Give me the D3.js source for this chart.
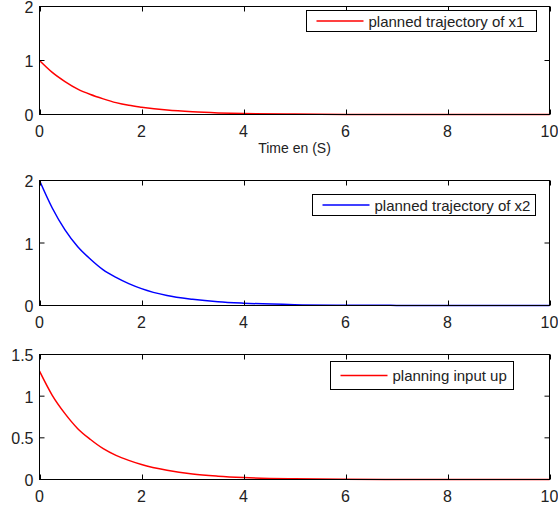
<!DOCTYPE html>
<html>
<head>
<meta charset="utf-8">
<script src="https://cdnjs.cloudflare.com/ajax/libs/d3/7.8.5/d3.min.js"></script>
<style>
  body { margin: 0; background: #fff; }
  svg text { font-family: "Liberation Sans", Arial, sans-serif; fill: #222; }
</style>
</head>
<body>
<svg id="chart" width="558" height="510"></svg>
<script>
// time samples
let timeVals = [0, 0.25, 0.5, 0.75, 1, 1.25, 1.5, 1.75, 2, 2.5, 3, 3.5, 4, 5, 6, 7, 8, 9, 10];

// planned trajectory of x1
let x1Vals = [1, 0.78, 0.61, 0.47, 0.37, 0.29, 0.22, 0.17, 0.135, 0.082, 0.05, 0.03, 0.018, 0.007, 0.002, 0.001, 0, 0, 0];
// planned trajectory of x2
let x2Vals = [2, 1.56, 1.21, 0.94, 0.74, 0.57, 0.45, 0.35, 0.27, 0.16, 0.10, 0.06, 0.037, 0.013, 0.005, 0.002, 0.001, 0, 0];
// planning input up
let upVals = [1.3, 1.01, 0.79, 0.61, 0.48, 0.37, 0.29, 0.23, 0.18, 0.11, 0.065, 0.04, 0.024, 0.009, 0.003, 0.001, 0, 0, 0];

let xTicks = [0, 2, 4, 6, 8, 10];
let legendNames = ['planned trajectory of x1', 'planned trajectory of x2', 'planning input up'];
let seriesColors = ['#ff0000', '#0000ff', '#ff0000'];
let yDomains = [[0, 2], [0, 2], [0, 1.5]];
let yTickSets = [[0, 1, 2], [0, 1, 2], [0, 0.5, 1, 1.5]];
let xLabel = 'Time en (S)';

let svg = d3.select('#chart');

let left = 39.5, right = 549.5;
// top / bottom of each axes box
let panels = [
  {top: 6.5, bottom: 114.5, vals: x1Vals, leg: {x: 306.5, y: 10.5, w: 230, h: 21}},
  {top: 180.5, bottom: 305.5, vals: x2Vals, leg: {x: 312.5, y: 194.5, w: 223, h: 21}},
  {top: 354.5, bottom: 479.5, vals: upVals, leg: {x: 330.5, y: 361.5, w: 183, h: 28}}
];

let x = d3.scaleLinear().domain([0, 10]).range([left, right]);
let tickLen = 5;

panels.forEach((p, k) => {
  let y = d3.scaleLinear().domain(yDomains[k]).range([p.bottom, p.top]);
  let g = svg.append('g');

  g.append('rect')
    .attr('x', left).attr('y', p.top)
    .attr('width', right - left).attr('height', p.bottom - p.top)
    .style('fill', '#fff');

  // curve
  let line = d3.line()
    .x((d, i) => x(timeVals[i]))
    .y(d => y(d))
    .curve(d3.curveMonotoneX);

  g.append('path')
    .datum(p.vals)
    .attr('d', line)
    .style('fill', 'none')
    .style('stroke', seriesColors[k])
    .style('stroke-width', '1.5px');

  // ticks (inward, on all four sides)
  let tk = g.append('g').style('stroke', '#000').style('stroke-width', '1px');
  xTicks.forEach(t => {
    let px = Math.round(x(t)) + 0.5;
    tk.append('line').attr('x1', px).attr('x2', px).attr('y1', p.bottom).attr('y2', p.bottom - tickLen);
    tk.append('line').attr('x1', px).attr('x2', px).attr('y1', p.top).attr('y2', p.top + tickLen);
  });
  yTickSets[k].forEach(t => {
    let py = y(t);
    tk.append('line').attr('x1', left).attr('x2', left + tickLen).attr('y1', py).attr('y2', py);
    tk.append('line').attr('x1', right).attr('x2', right - tickLen).attr('y1', py).attr('y2', py);
  });

  // box
  g.append('rect')
    .attr('x', left).attr('y', p.top)
    .attr('width', right - left).attr('height', p.bottom - p.top)
    .style('fill', 'none')
    .style('stroke', '#000')
    .style('stroke-width', '1px');

  // tick labels
  g.selectAll('text.xt')
    .data(xTicks)
    .enter()
    .append('text')
    .attr('class', 'xt')
    .attr('x', d => x(d))
    .attr('y', p.bottom + 22)
    .attr('text-anchor', 'middle')
    .style('font-size', '16px')
    .text(d => d);

  g.selectAll('text.yt')
    .data(yTickSets[k])
    .enter()
    .append('text')
    .attr('class', 'yt')
    .attr('x', left - 6)
    .attr('y', d => y(d) + 6.5)
    .attr('text-anchor', 'end')
    .style('font-size', '16px')
    .text(d => d);

  // legend
  let lg = g.append('g');
  lg.append('rect')
    .attr('x', p.leg.x).attr('y', p.leg.y)
    .attr('width', p.leg.w).attr('height', p.leg.h)
    .style('fill', '#fff')
    .style('stroke', '#000')
    .style('stroke-width', '1px');
  let cy = p.leg.y + p.leg.h / 2;
  lg.append('line')
    .attr('x1', p.leg.x + 10).attr('x2', p.leg.x + 57)
    .attr('y1', cy).attr('y2', cy)
    .style('stroke', seriesColors[k])
    .style('stroke-width', '1.5px');
  lg.append('text')
    .attr('x', p.leg.x + 62)
    .attr('y', cy + 5.5)
    .style('font-size', '15px')
    .text(legendNames[k]);
});

svg.append('text')
  .attr('x', (left + right) / 2)
  .attr('y', 153)
  .attr('text-anchor', 'middle')
  .style('font-size', '14px')
  .text(xLabel);
</script>
</body>
</html>
